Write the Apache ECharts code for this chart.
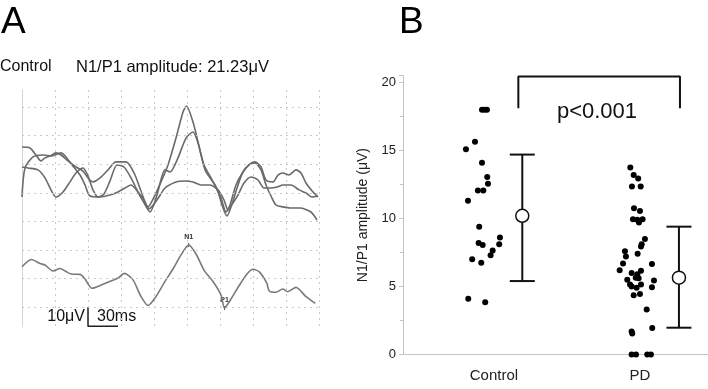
<!DOCTYPE html>
<html>
<head>
<meta charset="utf-8">
<script src="https://cdn.jsdelivr.net/npm/echarts@6.0.0/dist/echarts.min.js"></script>
<style>
html, body { margin: 0; padding: 0; background: #fff; }
#chart { width: 708px; height: 389px; }
</style>
</head>
<body>
<div id="chart"></div>
<script>
// ---- panel A : VEP traces (x = ms, y = uV) ----
var traceTop1 = [[0,84.0],[8,83.5],[14,79.8],[19,76.7],[23,78.3],[28,79.3],[34,80.9],[39,79.8],[46,76.7],[54,73.5],[61,71.4],[66,67.8],[71,65.7],[78,67.8],[86,72.0],[94,76.2],[102,76.2],[106,75.6],[113,69.3],[119,60.9],[126,52.6],[133,58.8],[139,65.7],[146,74.6],[154,88.7],[161,102.4],[164.5,105.5],[171,97.1],[176,86.6],[181,75.6],[184,70.9],[193,64.1],[199,57.3],[204,49.9],[208,53.6],[214,64.1],[221,70.9],[227,74.6],[233,76.2],[239,73.5],[244,66.7],[251,65.7],[256,69.3],[261,70.4],[267,69.3],[274,72.0],[279,70.4],[284,65.1],[291,60.4],[296,57.8]];
var traceTop2 = [[0,73.5],[6,73.0],[16,72.0],[23,67.8],[29,61.5],[34,57.8],[41,60.4],[48,65.7],[54,70.4],[61,73.0],[66,68.8],[71,61.5],[76,57.8],[82,59.4],[88,66.2],[95,74.6],[102,73.5],[109,67.8],[116,60.4],[122,54.7],[128,49.9],[135,58.8],[143,72.0],[148,70.9],[156,78.3],[164,88.7],[171,91.9],[176,86.1],[182,74.6],[189,67.8],[196,60.4],[201,52.0],[205,47.8],[210,54.1],[215,62.5],[221,70.9],[227,74.6],[233,75.6],[239,72.0],[244,64.1],[249,58.3],[254,53.6],[261,52.6],[268,52.0],[278,52.0],[289,49.9],[295,45.7]];
var traceTop3 = [[0,57.8],[3,73.0],[11,78.8],[21,79.8],[29,79.3],[39,80.9],[44,78.8],[50,74.6],[58,69.3],[63,64.1],[68,58.3],[78,57.8],[88,58.8],[96,60.4],[103,62.5],[109,64.1],[116,60.4],[122,56.2],[127,51.5],[135,56.2],[143,62.5],[154,65.7],[163,66.2],[171,65.7],[179,64.1],[188,64.1],[196,61.5],[202,56.2],[206,51.0],[211,54.7],[216,58.8],[222,65.1],[229,68.3],[236,66.7],[242,62.5],[249,62.5],[255,63.0],[261,64.1],[269,64.1],[277,61.5],[284,59.9],[290,57.8],[296,58.3]];
var traceBottom = [[0,21.2],[9.5,25.0],[18,22.9],[23,22.1],[31,19.0],[38,20.3],[43,19.0],[49,17.4],[58,17.2],[63,14.8],[70,9.9],[81,12.0],[89,13.7],[96,15.3],[102.5,17.7],[111,14.3],[119,5.6],[126,0.9],[133,4.8],[143,13.5],[151,20.0],[159,27.4],[166.7,32.6],[174,27.9],[182.5,19.0],[191,13.5],[199,6.4],[202.5,-0.4],[207.5,3.0],[217.5,11.6],[225,17.4],[231,19.9],[237.3,18.5],[244.7,12.7],[247.3,8.5],[254,7.8],[260.7,9.5],[265.7,8.1],[274,10.4],[284,5.5],[293.3,2.0]];
var peakMarks = [[166.7,32.6,'N1'],[202.5,-0.4,'P1']];
var gridLevels = [0,15,30,45,60,75,90,105];
var scaleBar = [[66,0],[66,-10],[96,-10]];

// ---- panel B : N1/P1 amplitude ----
var groupNames = ['Control', 'PD'];
var controlDots = [[0.918,18.0],[0.935,18.0],[0.952,18.0],[0.808,15.1],[0.870,15.65],[0.918,14.1],[0.954,13.05],[0.959,12.55],[0.890,12.05],[0.927,12.05],[0.822,11.3],[0.899,9.4],[1.041,8.6],[0.895,8.2],[0.923,8.05],[1.036,8.1],[0.991,7.65],[0.977,7.3],[0.851,7.0],[0.913,6.75],[0.824,4.1],[0.940,3.85]];
var pdDots = [[1.934,13.75],[1.957,13.2],[1.988,12.95],[1.945,12.35],[2.005,12.35],[1.959,10.75],[2.0,10.55],[1.952,9.95],[1.982,9.9],[2.018,9.95],[1.993,9.7],[2.034,8.5],[2.012,8.1],[2.007,7.95],[1.897,7.6],[1.904,7.2],[1.984,7.4],[1.884,6.7],[2.082,6.65],[1.861,6.2],[1.943,6.0],[2.007,6.15],[1.982,5.9],[1.971,5.65],[1.913,5.5],[2.096,5.45],[2.082,4.95],[1.991,5.6],[1.932,5.15],[2.007,5.15],[1.943,5.0],[1.977,4.9],[1.957,4.35],[2.0,4.45],[2.046,3.3],[2.084,1.95],[1.943,1.7],[1.947,1.55],[1.943,0],[1.973,0],[2.05,0],[2.075,0]];
// [x, mean, lower, upper]
var groupStats = [[1.194,10.2,5.4,14.7],[2.267,5.65,1.97,9.4]];
var bracket = [[1.167,18.1],[1.167,20.45],[2.274,20.45],[2.274,18.1]];
var pText = 'p<0.001';

var FONT = '"Liberation Sans", Arial, sans-serif';
var traceColor = '#6a6a6a';
var gridLine = { show: true, lineStyle: { color: '#c9c9c9', type: [2, 4], width: 1 } };

var chart = echarts.init(document.getElementById('chart'), null, { renderer: 'canvas' });

function traceSeries(data, color) {
  return {
    type: 'line', xAxisIndex: 0, yAxisIndex: 0,
    data: data, showSymbol: false, smooth: 0.25, silent: true,
    lineStyle: { color: color, width: 1.6 }
  };
}

var option = {
  animation: false,
  textStyle: { fontFamily: FONT },
  grid: [
    { left: 22, top: 90, width: 297, height: 237 },
    { left: 403, right: 0, top: 75.7, bottom: 34.5 }
  ],
  xAxis: [
    { gridIndex: 0, type: 'value', min: 0, max: 297, interval: 33,
      axisLine: { show: false }, axisTick: { show: false }, axisLabel: { show: false },
      splitLine: gridLine },
    { gridIndex: 1, type: 'value', min: 0.377, max: 2.466,
      axisLine: { show: true, lineStyle: { color: '#c4c4c4' } },
      axisTick: { show: false },
      splitLine: { show: false },
      axisLabel: {
        customValues: [1, 2], margin: 14, fontSize: 15, color: '#222', fontFamily: FONT,
        formatter: function (v) { return groupNames[Math.round(v) - 1]; }
      } }
  ],
  yAxis: [
    { gridIndex: 0, type: 'value', min: -10.4, max: 113.9,
      axisLine: { show: true, lineStyle: { color: '#d6d6d6' } },
      axisTick: { show: false }, axisLabel: { show: false }, splitLine: { show: false } },
    { gridIndex: 1, type: 'value', min: 0, max: 20.5, interval: 5,
      name: 'N1/P1 amplitude (\u03bcV)', nameLocation: 'middle', nameGap: 33,
      nameTextStyle: { fontSize: 14, color: '#222', fontFamily: FONT },
      axisLine: { show: true, lineStyle: { color: '#c4c4c4' } },
      axisTick: { show: true, length: 4, lineStyle: { color: '#c4c4c4' } },
      minorTick: { show: true, splitNumber: 2, length: 3, lineStyle: { color: '#c4c4c4' } },
      splitLine: { show: false },
      axisLabel: { margin: 7, fontSize: 13, color: '#222', fontFamily: FONT,
        formatter: function (v) { return v % 5 === 0 ? String(v) : ''; } } }
  ],
  series: [
    {
      type: 'line', xAxisIndex: 0, yAxisIndex: 0, data: [], silent: true,
      markLine: {
        silent: true, symbol: 'none', label: { show: false },
        lineStyle: { color: '#c9c9c9', type: [2, 4], width: 1 },
        data: gridLevels.map(function (v) { return { yAxis: v }; })
      }
    },
    traceSeries(traceTop3, traceColor),
    traceSeries(traceTop2, traceColor),
    traceSeries(traceTop1, traceColor),
    traceSeries(traceBottom, '#7a7a7a'),
    {
      type: 'scatter', xAxisIndex: 0, yAxisIndex: 0, silent: true,
      data: peakMarks, symbol: 'rect', symbolSize: [1, 4],
      itemStyle: { color: '#555', opacity: 1 },
      label: { show: true, position: 'top', distance: 2, fontSize: 7, fontWeight: 'bold', color: '#333',
        formatter: function (p) { return p.data[2]; } }
    },
    {
      type: 'line', xAxisIndex: 0, yAxisIndex: 0, data: scaleBar, silent: true,
      showSymbol: false, clip: false, lineStyle: { color: '#222', width: 1.5 }
    },
    // panel B
    {
      type: 'line', xAxisIndex: 1, yAxisIndex: 1, data: bracket, silent: true,
      showSymbol: false, clip: false, lineStyle: { color: '#111', width: 2 }
    },
    {
      type: 'scatter', xAxisIndex: 1, yAxisIndex: 1, data: controlDots,
      symbolSize: 6, itemStyle: { color: '#000', opacity: 1 }, clip: false
    },
    {
      type: 'scatter', xAxisIndex: 1, yAxisIndex: 1, data: pdDots,
      symbolSize: 6, itemStyle: { color: '#000', opacity: 1 }, clip: false
    },
    {
      type: 'custom', xAxisIndex: 1, yAxisIndex: 1, data: groupStats,
      encode: { x: 0, y: [2, 3] },
      renderItem: function (params, api) {
        var x = api.value(0);
        var lo = api.coord([x, api.value(2)]);
        var hi = api.coord([x, api.value(3)]);
        var cap = 12.5;
        var st = { stroke: '#111', lineWidth: 2 };
        return { type: 'group', children: [
          { type: 'line', shape: { x1: lo[0], y1: lo[1], x2: hi[0], y2: hi[1] }, style: st },
          { type: 'line', shape: { x1: hi[0] - cap, y1: hi[1], x2: hi[0] + cap, y2: hi[1] }, style: st },
          { type: 'line', shape: { x1: lo[0] - cap, y1: lo[1], x2: lo[0] + cap, y2: lo[1] }, style: st }
        ] };
      }
    },
    {
      type: 'scatter', xAxisIndex: 1, yAxisIndex: 1, z: 5,
      data: groupStats.map(function (s) { return [s[0], s[1]]; }),
      symbolSize: 13,
      itemStyle: { color: '#fff', borderColor: '#111', borderWidth: 1.5, opacity: 1 }
    }
  ],
  graphic: [
    { type: 'text', x: 1, y: 4, style: { text: 'A', font: '37px ' + FONT, fill: '#000' } },
    { type: 'text', x: 399, y: 4, style: { text: 'B', font: '37px ' + FONT, fill: '#000' } },
    { type: 'text', x: 0, y: 67, style: { text: 'Control', font: '16px ' + FONT, fill: '#111', verticalAlign: 'middle' } },
    { type: 'text', x: 76, y: 67, style: { text: 'N1/P1 amplitude: 21.23\u03bcV', font: '16.5px ' + FONT, fill: '#111', verticalAlign: 'middle' } },
    { type: 'text', x: 85, y: 317, style: { text: '10\u03bcV', font: '16px ' + FONT, fill: '#111', align: 'right', verticalAlign: 'middle' } },
    { type: 'text', x: 97, y: 317, style: { text: '30ms', font: '16px ' + FONT, fill: '#111', verticalAlign: 'middle' } },
    { type: 'text', x: 597, y: 112, style: { text: pText, font: '22px ' + FONT, fill: '#111', align: 'center', verticalAlign: 'middle' } }
  ]
};

chart.setOption(option);
</script>
</body>
</html>
